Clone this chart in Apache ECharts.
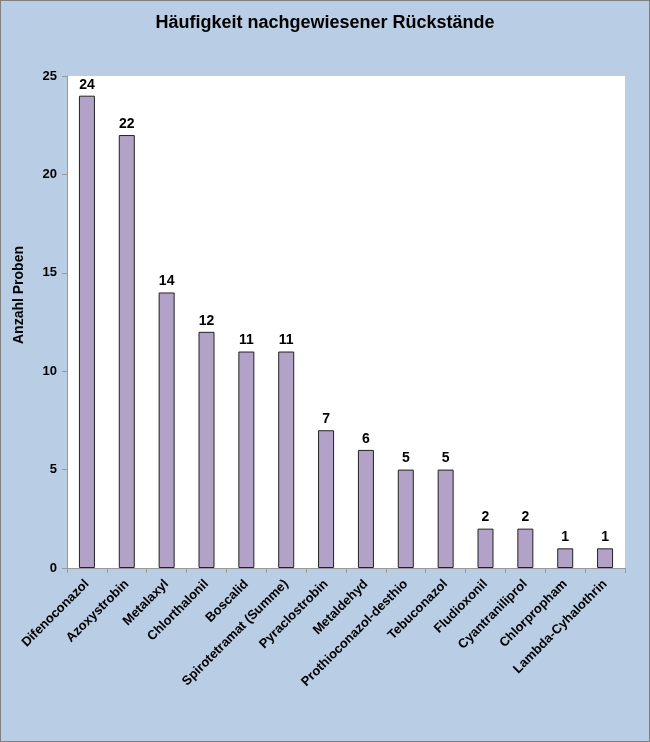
<!DOCTYPE html>
<html><head><meta charset="utf-8">
<script src="https://cdn.jsdelivr.net/npm/echarts@6/dist/echarts.min.js"></script>
<style>html,body{margin:0;padding:0;background:#B9CDE5;}#c{width:648px;height:740px;border:1px solid #808080;}</style>
</head><body><div id="c"></div>
<script>
const categories = ["Difenoconazol","Azoxystrobin","Metalaxyl","Chlorthalonil","Boscalid","Spirotetramat (Summe)","Pyraclostrobin","Metaldehyd","Prothioconazol-desthio","Tebuconazol","Fludioxonil","Cyantraniliprol","Chlorpropham","Lambda-Cyhalothrin"];
const values = [24,22,14,12,11,11,7,6,5,5,2,2,1,1];
const yTicks = [0,5,10,15,20,25];
const font = "Liberation Sans, Arial, sans-serif";
const chart = echarts.init(document.getElementById('c'));
chart.setOption({
  backgroundColor:'#B9CDE5',
  animation:false,
  title:{text:'Häufigkeit nachgewiesener Rückstände',left:'center',top:8,textStyle:{fontFamily:font,fontSize:18,fontWeight:'bold',color:'#000'}},
  grid:{left:66,right:24,top:75,bottom:173,backgroundColor:'#fff',show:true,borderWidth:0},
  xAxis:{type:'category',data:categories,
    axisLine:{lineStyle:{color:'#999'}},
    axisTick:{show:true,length:5,lineStyle:{color:'#999'}},
    axisLabel:{rotate:45,interval:0,fontFamily:font,fontSize:13,fontWeight:'bold',color:'#000',margin:14}},
  yAxis:{type:'value',min:yTicks[0],max:yTicks[yTicks.length-1],interval:5,
    name:'Anzahl Proben',nameLocation:'middle',nameGap:41,
    nameTextStyle:{fontFamily:font,fontSize:14,fontWeight:'bold',color:'#000',padding:[0,0,0,54]},
    axisLine:{show:true,lineStyle:{color:'#999'}},
    axisTick:{show:true,length:5,lineStyle:{color:'#999'}},
    splitLine:{show:false},
    axisLabel:{fontFamily:font,fontSize:13,fontWeight:'bold',color:'#000',margin:10}},
  series:[{type:'bar',data:values,barWidth:16,
    itemStyle:{color:'#B3A2C7',borderColor:'#222',borderWidth:1},
    label:{show:true,position:'top',distance:4,fontFamily:font,fontSize:14,fontWeight:'bold',color:'#000'}}]
});
</script></body></html>
